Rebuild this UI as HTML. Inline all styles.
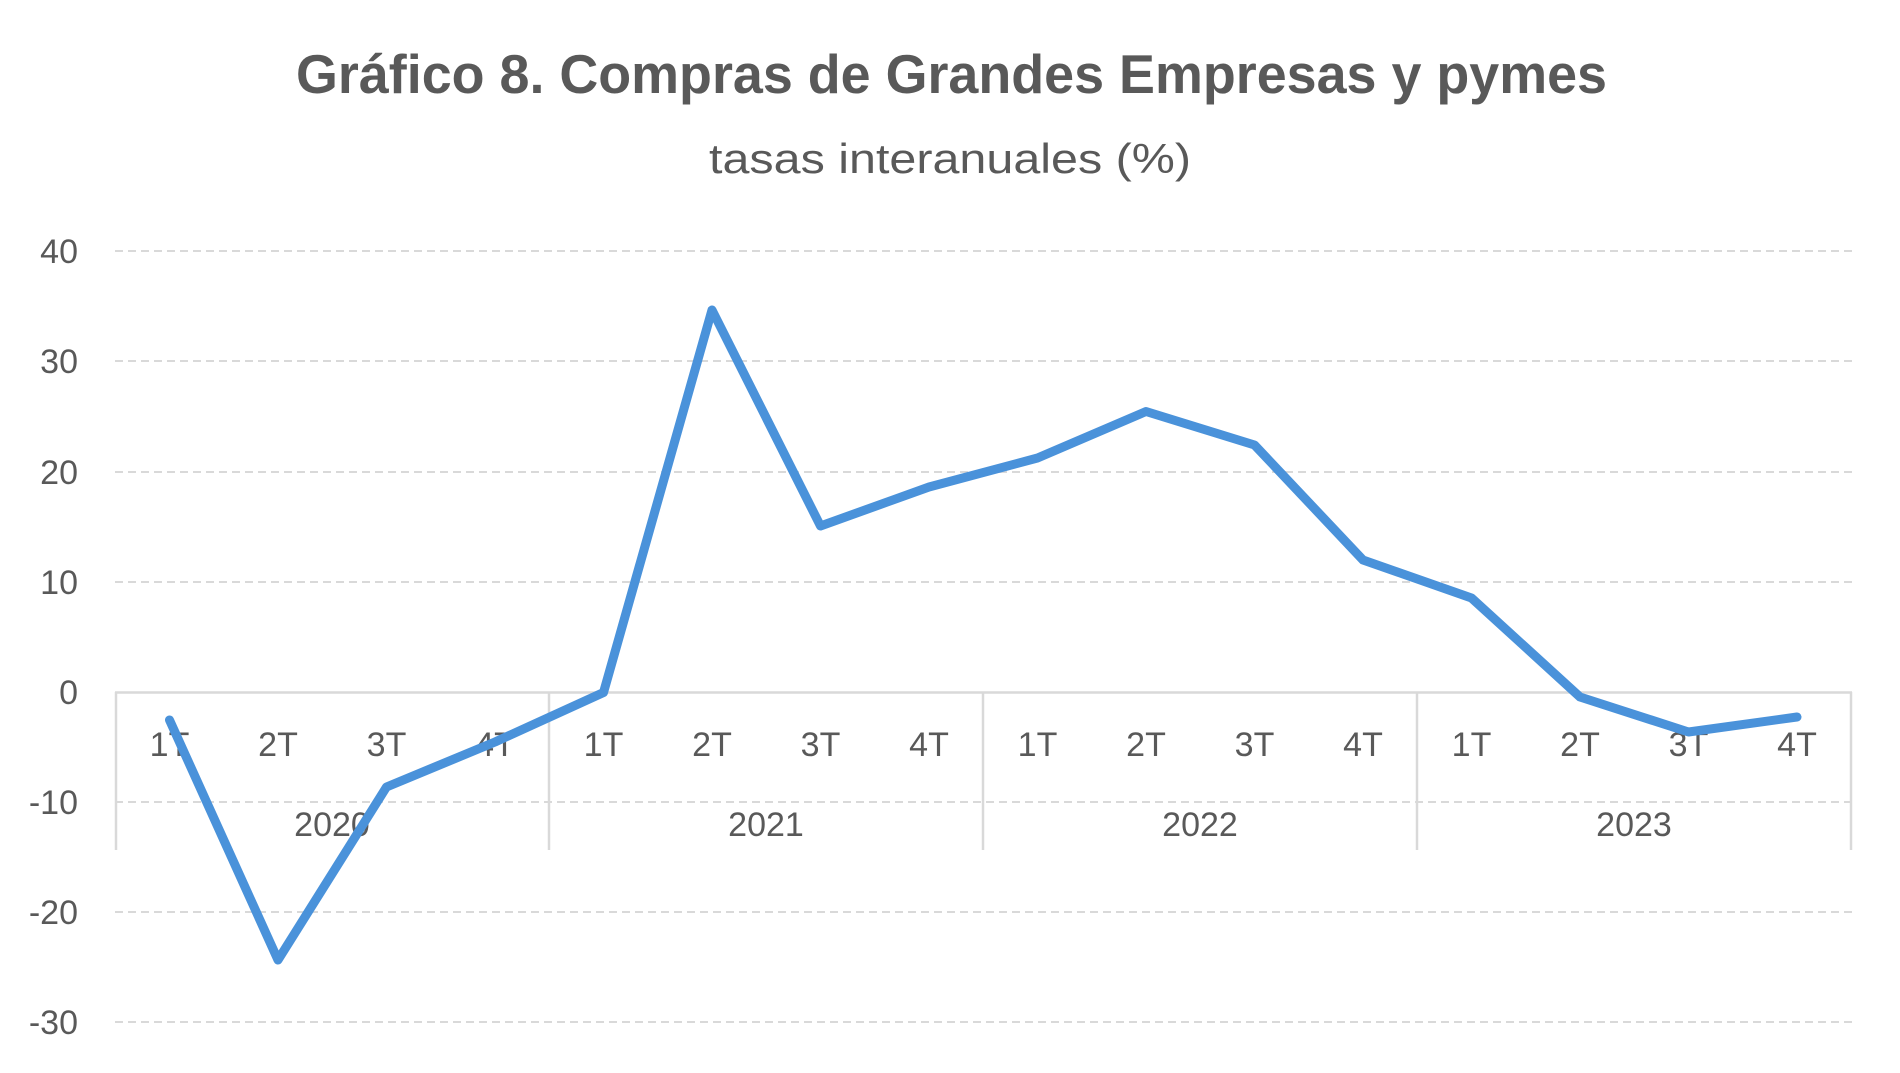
<!DOCTYPE html>
<html><head><meta charset="utf-8"><style>
html,body{margin:0;padding:0;background:#fff;}
svg{display:block;}
text{font-family:"Liberation Sans",sans-serif;fill:#595959;}
</style></head><body>
<svg width="1900" height="1073" viewBox="0 0 1900 1073" xmlns="http://www.w3.org/2000/svg">
<text x="296" y="93" font-size="55" font-weight="bold" textLength="1311" lengthAdjust="spacingAndGlyphs">Gráfico 8. Compras de Grandes Empresas y pymes</text>
<text x="709" y="173" font-size="42" textLength="482" lengthAdjust="spacingAndGlyphs">tasas interanuales (%)</text>
<g stroke="#d9d9d9" stroke-width="2" stroke-dasharray="8,5">
<line x1="115" y1="251" x2="1852" y2="251"/>
<line x1="115" y1="361" x2="1852" y2="361"/>
<line x1="115" y1="472" x2="1852" y2="472"/>
<line x1="115" y1="582" x2="1852" y2="582"/>
<line x1="115" y1="802" x2="1852" y2="802"/>
<line x1="115" y1="912" x2="1852" y2="912"/>
<line x1="115" y1="1022" x2="1852" y2="1022"/>
</g>
<g stroke="#d9d9d9" stroke-width="2.5">
<line x1="115" y1="692.5" x2="1852" y2="692.5"/>
<line x1="116" y1="692" x2="116" y2="850"/>
<line x1="549" y1="692" x2="549" y2="850"/>
<line x1="983" y1="692" x2="983" y2="850"/>
<line x1="1417" y1="692" x2="1417" y2="850"/>
<line x1="1851" y1="692" x2="1851" y2="850"/>
</g>
<g font-size="34" text-anchor="end">
<text x="78" y="263">40</text>
<text x="78" y="373">30</text>
<text x="78" y="484">20</text>
<text x="78" y="594">10</text>
<text x="78" y="704">0</text>
<text x="78" y="814">-10</text>
<text x="78" y="924">-20</text>
<text x="78" y="1034">-30</text>
</g>
<g font-size="34" text-anchor="middle">
<text x="169.5" y="756">1T</text><text x="278" y="756">2T</text><text x="386.5" y="756">3T</text><text x="495" y="756">4T</text>
<text x="603.5" y="756">1T</text><text x="712" y="756">2T</text><text x="820.5" y="756">3T</text><text x="929" y="756">4T</text>
<text x="1037.5" y="756">1T</text><text x="1146" y="756">2T</text><text x="1254.5" y="756">3T</text><text x="1363" y="756">4T</text>
<text x="1471.5" y="756">1T</text><text x="1580" y="756">2T</text><text x="1688.5" y="756">3T</text><text x="1797" y="756">4T</text>
<text x="332" y="836">2020</text><text x="766" y="836">2021</text><text x="1200" y="836">2022</text><text x="1634" y="836">2023</text>
</g>
<polyline fill="none" stroke="#4a92da" stroke-width="9" stroke-linejoin="round" stroke-linecap="round"
points="169.5,720 278,960 386.5,787 495,742 603.5,692.5 712,310 820.5,526 929,487 1037.5,458 1146,411.5 1254.5,445 1363,560 1471.5,598 1580,697 1688.5,732 1797,717"/>
</svg>
</body></html>
